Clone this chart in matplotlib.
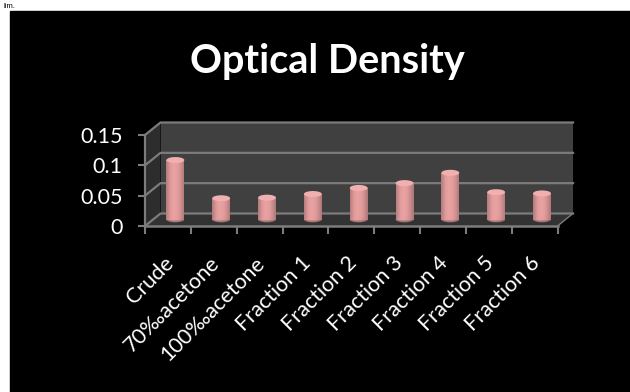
import matplotlib
matplotlib.use('Agg')

import matplotlib.pyplot as plt
import numpy as np
from matplotlib.patches import Ellipse, Polygon, Rectangle

labels = ["Crude", "70‰acetone", "100‰acetone", "Fraction 1", "Fraction 2",
          "Fraction 3", "Fraction 4", "Fraction 5", "Fraction 6"]
values = [0.098, 0.035, 0.036, 0.042, 0.052, 0.06, 0.077, 0.045, 0.043]
yticks = [0, 0.05, 0.1, 0.15]
ytick_labels = ["0", "0.05", "0.1", "0.15"]

W, H = 630, 392
plt.rcParams['font.family'] = ['Lato', 'DejaVu Sans']

fig = plt.figure(figsize=(W / 100, H / 100), dpi=100, facecolor="white")

# black slide behind the chart
bg = fig.add_axes([0, 0, 1, 1])
bg.set_xlim(0, W)
bg.set_ylim(H, 0)
bg.axis("off")
bg.add_patch(Rectangle((10, 11), W - 10, H - 11, color="black"))
bg.text(3, 8, "lim.", color="black", fontsize=5.5, ha="left", va="baseline",
        family=["Liberation Sans"])

# front plane of the 3d box
x0, x1, y0, y1 = 145, 557.5, 226, 135
ax = fig.add_axes([x0 / W, 1 - y0 / H, (x1 - x0) / W, (y0 - y1) / H])
ax.patch.set_alpha(0)
ax.set_xlim(0, len(labels))
ax.set_ylim(0, 0.15)
for s in ax.spines.values():
    s.set_visible(False)

# depth of the box in data units
dx = 15.5 / ((x1 - x0) / len(labels))
dy = 0.15 * 12.5 / (y0 - y1)
n = len(labels)
line = "#7c7c7c"

ax.add_patch(Polygon([(dx, dy), (n + dx, dy), (n + dx, 0.15 + dy), (dx, 0.15 + dy)],
                     fc="#404040", ec="none", clip_on=False))
ax.add_patch(Polygon([(0, 0), (dx, dy), (dx, 0.15 + dy), (0, 0.15)],
                     fc="#2d2d2d", ec="none", clip_on=False))
ax.add_patch(Polygon([(0, 0), (n, 0), (n + dx, dy), (dx, dy)],
                     fc="#333333", ec="none", clip_on=False))
for t in yticks:
    ax.plot([0, dx, n + dx], [t, t + dy, t + dy], color=line, lw=1.6, clip_on=False)
ax.plot([0, 0], [0, 0.15], color=line, lw=1.6, clip_on=False)
ax.plot([0, n], [0, 0], color=line, lw=1.8, clip_on=False)
ax.plot([n, n + dx], [0, dy], color=line, lw=1, clip_on=False)

# cylinders
bar_w = 0.39
off_x = dx * 0.48
off_y = dy * 0.52
ell_h = 0.15 * 6 / (y0 - y1)
shade = np.array([0.78, 0.88, 0.97, 1.0, 1.0, 0.98, 0.93, 0.85, 0.76])
base = np.array([232, 160, 160]) / 255
xs = np.linspace(-0.5, 0.5, 37)
prof = np.interp(np.linspace(0, 1, 36), np.linspace(0, 1, len(shade)), shade)
for i, v in enumerate(values):
    cx = i + 0.5 + off_x
    bot = off_y
    for k in range(36):
        c = np.clip(base * prof[k], 0, 1)
        ax.add_patch(Ellipse((cx + bar_w * xs[k], bot), bar_w / 36 * 1.2,
                             ell_h * np.sqrt(max(1 - (2 * xs[k]) ** 2, 0)),
                             fc=c, ec="none", clip_on=False, zorder=3))
        ax.bar(cx + bar_w * xs[k], v, width=bar_w / 36 * 1.15, bottom=bot, align="edge",
               color=c, lw=0, clip_on=False, zorder=3)
    ax.add_patch(Ellipse((cx, bot + v), bar_w, ell_h, fc="#f0b0b0", ec="none",
                         clip_on=False, zorder=4))

ax.set_yticks(yticks)
ax.set_yticklabels(ytick_labels, color="white", fontsize=15.5)
ax.set_xticks(np.arange(n + 1))
ax.set_xticklabels([])
ax.tick_params(axis="y", length=5, width=1.5, color=line, pad=11)
ax.tick_params(axis="x", length=6, width=1.5, color=line)

for i, lab in enumerate(labels):
    ax.annotate(lab, (i + 0.55, 0), xytext=(0, -34), textcoords="offset pixels",
                rotation=45, rotation_mode="anchor", ha="right", va="center",
                color="white", fontsize=15.5, annotation_clip=False)

fig.text(327 / W, 1 - 61 / H, "Optical Density", color="white", fontsize=28.5,
         fontweight="bold", ha="center", va="center")

fig.savefig("out.png", dpi=100, facecolor="white")
